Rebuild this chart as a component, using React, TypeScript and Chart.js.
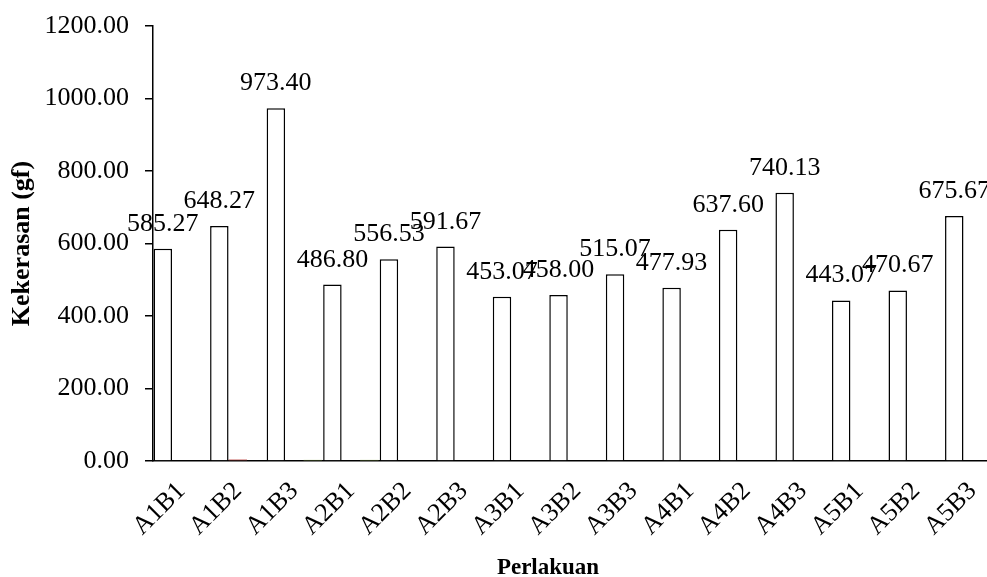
import React, { useEffect, useRef } from "react";
import { Chart, registerables } from "chart.js";

Chart.register(...registerables);

// Treatment combinations (factor A x factor B)
const categories = [
  "A1B1", "A1B2", "A1B3",
  "A2B1", "A2B2", "A2B3",
  "A3B1", "A3B2", "A3B3",
  "A4B1", "A4B2", "A4B3",
  "A5B1", "A5B2", "A5B3",
];

// Mean hardness per treatment (gf)
const hardness = [
  585.27, 648.27, 973.4,
  486.8, 556.53, 591.67,
  453.07, 458.0, 515.07,
  477.93, 637.6, 740.13,
  443.07, 470.67, 675.67,
];

// Two near-zero companion series that sit on the baseline
const seriesB = [0, 4, 0, 0, 0, 0, 0, 0, 0, 0, 0, 0, 0, 0, 0];
const seriesC = [0, 0, 3, 3, 0, 0, 0, 0, 0, 0, 0, 0, 0, 0, 0];

const yMin = 0;
const yMax = 1200;
const yStep = 200;

const FONT = "'Liberation Serif', 'Times New Roman', serif";

const valueLabels = {
  id: "valueLabels",
  afterDatasetsDraw(chart: any) {
    const meta = chart.getDatasetMeta(0);
    const ctx = chart.ctx;
    ctx.save();
    ctx.font = `26px ${FONT}`;
    ctx.fillStyle = "#000";
    ctx.textAlign = "center";
    ctx.textBaseline = "alphabetic";
    meta.data.forEach((bar: any, i: number) => {
      ctx.fillText(hardness[i].toFixed(2), bar.x, bar.y - 18);
    });
    ctx.restore();
  },
};

const axisTitles = {
  id: "axisTitles",
  afterDraw(chart: any) {
    const ctx = chart.ctx;
    const area = chart.chartArea;
    ctx.save();
    ctx.fillStyle = "#000";
    ctx.font = `bold 26px ${FONT}`;
    ctx.textAlign = "center";
    ctx.textBaseline = "middle";
    ctx.translate(22, (area.top + area.bottom) / 2);
    ctx.rotate(-Math.PI / 2);
    ctx.fillText("Kekerasan (gf)", 0, 0);
    ctx.restore();

    ctx.save();
    ctx.fillStyle = "#000";
    ctx.font = `bold 23px ${FONT}`;
    ctx.textAlign = "center";
    ctx.textBaseline = "alphabetic";
    ctx.fillText("Perlakuan", 548, 574);
    ctx.restore();
  },
};

export default function App() {
  const canvasRef = useRef<HTMLCanvasElement | null>(null);

  useEffect(() => {
    const canvas = canvasRef.current;
    if (!canvas) return;
    const chart = new Chart(canvas, {
      type: "bar",
      data: {
        labels: categories,
        datasets: [
          {
            label: "Kekerasan",
            data: hardness,
            backgroundColor: "#ffffff",
            borderColor: "#000000",
            borderWidth: 1.5,
            categoryPercentage: 0.98,
            barPercentage: 1,
          },
          {
            label: "B",
            data: seriesB,
            backgroundColor: "#c0504d",
            borderWidth: 0,
            categoryPercentage: 0.98,
            barPercentage: 1,
          },
          {
            label: "C",
            data: seriesC,
            backgroundColor: "#9bbb59",
            borderWidth: 0,
            categoryPercentage: 0.98,
            barPercentage: 1,
          },
        ],
      },
      options: {
        responsive: false,
        animation: false,
        devicePixelRatio: 1,
        layout: { padding: { left: 0, right: 0, top: 26, bottom: 0 } },
        plugins: {
          legend: { display: false },
          tooltip: { enabled: false },
        },
        scales: {
          x: {
            offset: true,
            grid: { display: false, drawTicks: false },
            border: { display: true, color: "#000", width: 1.5 },
            ticks: {
              color: "#000",
              font: { family: FONT, size: 26 },
              minRotation: 45,
              maxRotation: 45,
              autoSkip: false,
              padding: 15,
            },
            afterFit(scale: any) {
              scale.height = 116;
              scale.paddingLeft = 0;
              scale.paddingRight = 0;
            },
          },
          y: {
            min: yMin,
            max: yMax,
            grid: {
              display: true,
              drawOnChartArea: false,
              drawTicks: true,
              tickLength: 8,
              color: "#000",
              lineWidth: 1.5,
            },
            border: { display: true, color: "#000", width: 1.5 },
            ticks: {
              stepSize: yStep,
              color: "#000",
              font: { family: FONT, size: 26 },
              padding: 16,
              callback: (v: any) => Number(v).toFixed(2),
            },
            afterFit(scale: any) {
              scale.width = 153;
              scale.paddingTop = 0;
              scale.paddingBottom = 0;
            },
          },
        },
      },
      plugins: [valueLabels, axisTitles],
    });
    return () => chart.destroy();
  }, []);

  return (
    <div
      style={{
        position: "fixed",
        left: 0,
        top: 0,
        width: 987,
        height: 577,
        overflow: "hidden",
        background: "#fff",
      }}
    >
      <canvas ref={canvasRef} width={1001} height={577} style={{ display: "block" }} />
    </div>
  );
}
